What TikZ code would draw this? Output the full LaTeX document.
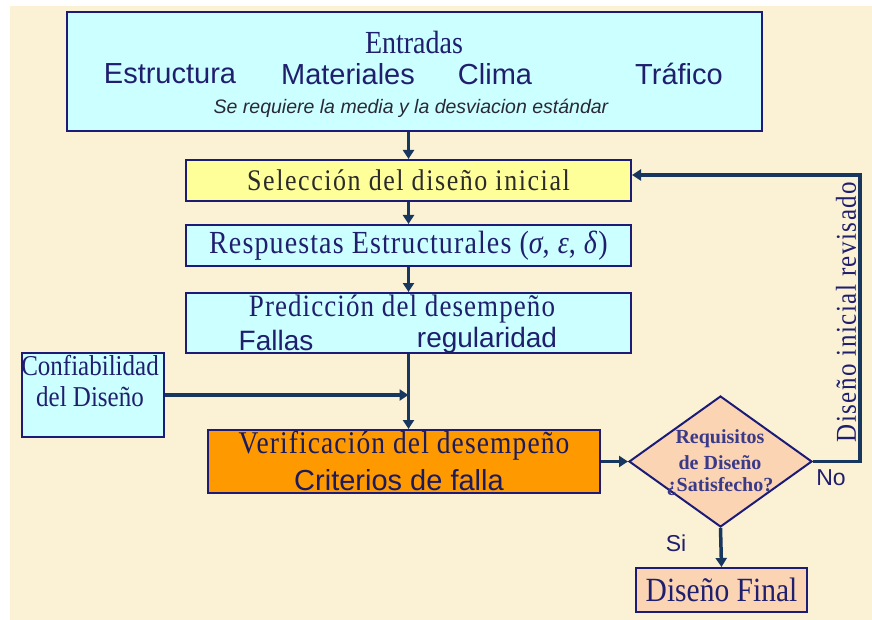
\documentclass[tikz,border=0pt]{standalone}
\usepackage{fontspec}
\setmainfont{Liberation Serif}
\setsansfont{Liberation Sans}
\usetikzlibrary{arrows.meta,shapes.geometric}
\definecolor{bgc}{HTML}{FBF2D6}
\definecolor{cyanf}{HTML}{CCFFFF}
\definecolor{yelf}{HTML}{FFFF99}
\definecolor{orf}{HTML}{FF9900}
\definecolor{peach}{HTML}{FBD5B3}
\definecolor{bordc}{HTML}{1C1C78}
\definecolor{connc}{HTML}{17375E}
\definecolor{txtc}{HTML}{1F1F6E}
\definecolor{darkt}{HTML}{2B2B2B}
\definecolor{dtxt}{HTML}{3A3A88}
\tikzset{
  box/.style={draw=bordc,line width=2pt,inner sep=0pt,anchor=center},
  conn/.style={draw=connc,line width=3.5pt,-{Triangle[length=9pt,width=11pt]}},
  lbl/.style={inner sep=0pt,anchor=center,text=txtc},
}
\newcommand{\fs}[1]{\fontsize{#1}{#1}\selectfont}
\newcommand{\tall}[1]{\scalebox{1}[1.15]{#1}}
\begin{document}
\begin{tikzpicture}[x=1pt,y=-1pt]
\useasboundingbox (0,0) rectangle (872,620);
\fill[white] (0,0) rectangle (872,620);
\fill[bgc] (10,6) rectangle (872,620);

% Entradas
\node[box,fill=cyanf,minimum width=695pt,minimum height=119pt] (ent) at (414.5,72) {};
\node[lbl] (t1) at (414,42) {\tall{\fs{28}Entradas}};
\node[lbl] (t2) at (170,74) {\sffamily\fs{29}Estructura};
\node[lbl] (t3) at (348,74) {\sffamily\fs{29}Materiales};
\node[lbl] (t4) at (495,74) {\sffamily\fs{29}Clima};
\node[lbl] (t5) at (679,74) {\sffamily\fs{29}Tráfico};
\node[lbl,text=darkt!80!txtc] (t6) at (411,108) {\sffamily\itshape\fs{19.5}Se requiere la media y la desviacion estándar};

% Seleccion
\node[box,fill=yelf,minimum width=445pt,minimum height=41pt,text=darkt] (sel) at (408.5,180.5) {\tall{\fs{26}\addfontfeature{LetterSpace=6}Selección del diseño inicial}};
% Respuestas
\node[box,fill=cyanf,minimum width=445pt,minimum height=41pt,text=txtc] (resp) at (408.5,245.5) {\tall{\fs{28}\addfontfeature{LetterSpace=4}Respuestas Estructurales (\textit{σ}, \textit{ε}, \textit{δ})}};
% Prediccion
\node[box,fill=cyanf,minimum width=445pt,minimum height=60pt] (pred) at (408.5,323) {};
\node[lbl] (p1) at (402,309) {\tall{\fs{27}\addfontfeature{LetterSpace=4}Predicción del desempeño}};
\node[lbl] (p2) at (276,340) {\sffamily\fs{28}Fallas};
\node[lbl] (p3) at (487,340) {\sffamily\fs{28}regularidad};

% Confiabilidad
\node[box,fill=cyanf,minimum width=142pt,minimum height=84pt] (conf) at (93,395) {};
\node[lbl] (c1) at (90,366) {\tall{\fs{25}Confiabilidad}};
\node[lbl] (c2) at (90,397) {\tall{\fs{25}del Diseño}};

% Verificacion
\node[box,fill=orf,minimum width=392pt,minimum height=63pt] (ver) at (404,461.5) {};
\node[lbl,text=txtc!85!black] (v1) at (404,446) {\tall{\fs{27.5}\addfontfeature{LetterSpace=4}Verificación del desempeño}};
\node[lbl,text=txtc!85!black] (v2) at (399,480) {\sffamily\fs{29}Criterios de falla};

% Diamond
\node[box,diamond,fill=peach,minimum width=183pt,minimum height=131pt,aspect=1.4] (dia) at (720.5,461.5) {};
\node[lbl,text=dtxt] (d1) at (720,439) {\bfseries\fs{20}Requisitos};
\node[lbl,text=dtxt] (d2) at (720,463) {\bfseries\fs{20}de Diseño};
\node[lbl,text=dtxt] (d3) at (720,487) {\bfseries\fs{20}¿Satisfecho?};

% Final
\node[box,fill=peach,minimum width=171pt,minimum height=44pt,text=txtc] (fin) at (721.5,590) {\tall{\fs{29.5}Diseño Final}};

% labels
\node[lbl,rotate=90] (rev) at (846,312) {\tall{\fs{25}\addfontfeature{LetterSpace=6}Diseño inicial revisado}};
\node[lbl] (no) at (831,478) {\sffamily\fs{23}No};
\node[lbl] (si) at (676,543) {\sffamily\fs{23}Si};

% connectors
\draw[conn] (sel.north |- ent.south) -- (sel.north);
\draw[conn] (sel.south) -- (resp.north);
\draw[conn] (resp.south) -- (pred.north);
\draw[conn] (pred.south) -- (pred.south |- ver.north);
\draw[conn] (conf.east) -- (conf.east -| pred.south);
\draw[conn] (ver.east) -- (dia.west);
\coordinate (fb) at (860,175);
\draw[conn] (dia.east) -| (fb) -- (fb -| sel.east);
\draw[conn] (dia.south) -- (fin.north);
\end{tikzpicture}
\end{document}
